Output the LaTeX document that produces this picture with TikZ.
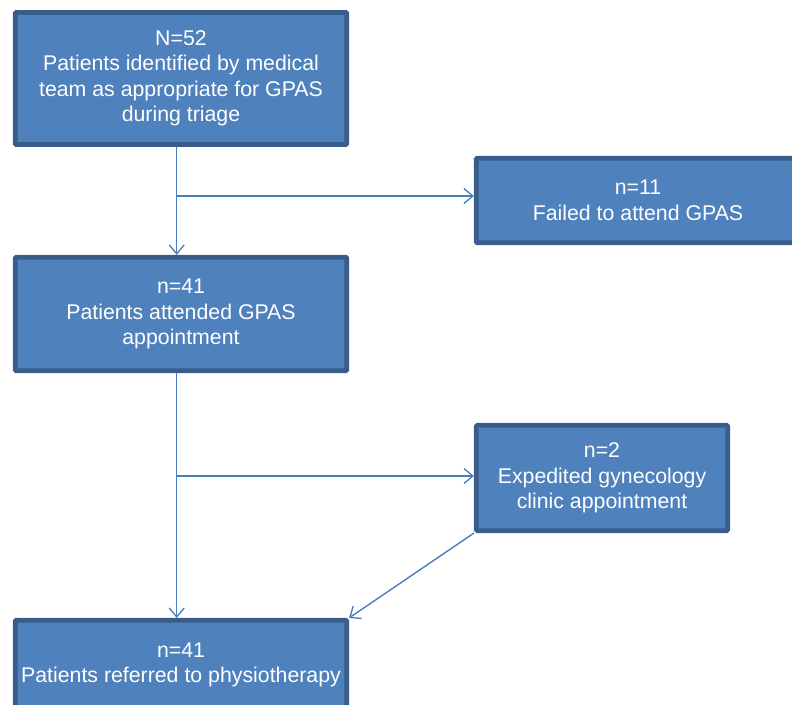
\documentclass[tikz,border=0pt]{standalone}
\usepackage{fontspec}
\setmainfont{Liberation Sans}
\usetikzlibrary{arrows.meta,calc}
\definecolor{boxfill}{HTML}{4F81BD}
\definecolor{boxline}{HTML}{385D8A}
\definecolor{conn}{HTML}{4A7EBB}
\begin{document}
\begin{tikzpicture}[x=1pt,y=1pt,
  flowbox/.style={draw=boxline, fill=boxfill, line width=4.7pt, rounded corners=1pt,
    text=white, align=center, inner sep=0pt,
    font=\fontsize{21.3}{25.5}\selectfont},
  link/.style={draw=conn, line width=1.4pt, -{Straight Barb[length=9pt,width=15pt,line width=1.3pt]}}]
\useasboundingbox (0,0) rectangle (792,-704);
\begin{scope}
\clip (0,0) rectangle (792,-704);
\node[flowbox, minimum width=331.5pt, minimum height=132pt] (a) at (181,-78.5)
  {N=52\\Patients identified by medical\\team as appropriate for GPAS\\during triage};
\node[flowbox, minimum width=323.5pt, minimum height=84.4pt] (b) at (638,-200.5)
  {n=11\\Failed to attend GPAS};
\node[flowbox, minimum width=331.5pt, minimum height=113.5pt] (c) at (181,-314)
  {n=41\\Patients attended GPAS\\appointment};
\node[flowbox, minimum width=251.4pt, minimum height=105.4pt] (d) at (602,-478)
  {n=2\\Expedited gynecology\\clinic appointment};
\node[flowbox, minimum width=331.5pt, minimum height=89.4pt] (e) at (181,-665)
  {n=41\\Patients referred to physiotherapy};
\end{scope}
\coordinate (trunk) at (176.7,0);
\coordinate (br1) at (0,-196);
\coordinate (br2) at (0,-476);
\draw[link] (a.south -| trunk) -- (c.north -| trunk);
\draw[link] (br1 -| trunk) -- (br1 -| b.west);
\draw[link] (c.south -| trunk) -- (e.north -| trunk);
\draw[link] (br2 -| trunk) -- (br2 -| d.west);
\draw[link] (d.south west) -- (e.north east);
\end{tikzpicture}
\end{document}
